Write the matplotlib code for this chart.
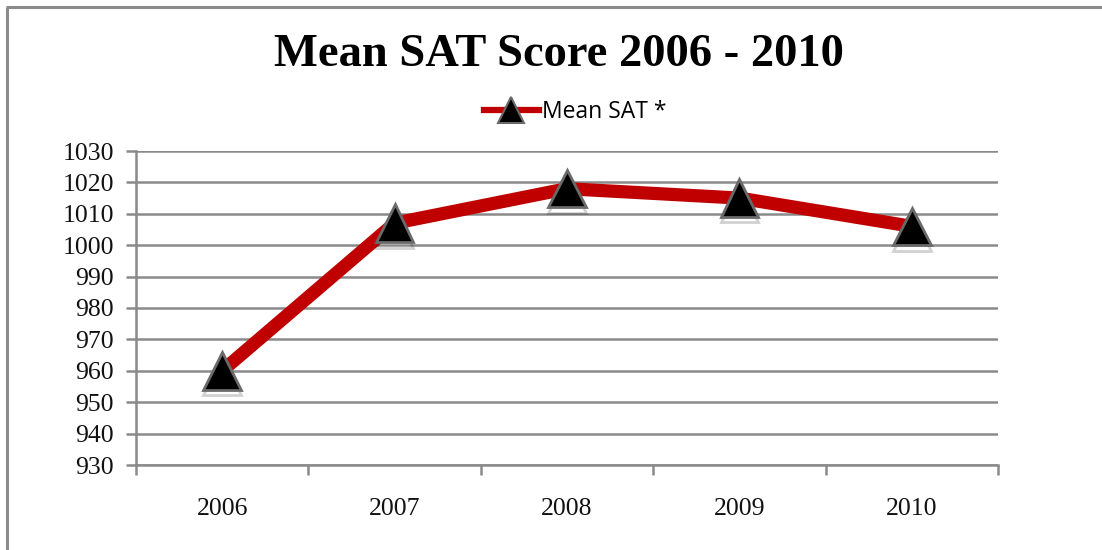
import matplotlib
matplotlib.use("Agg")
import matplotlib.pyplot as plt
from matplotlib.lines import Line2D
import matplotlib.patheffects as pe

years = ["2006", "2007", "2008", "2009", "2010"]
mean_sat = [960, 1007, 1018, 1015, 1006]
y_ticks = [930, 940, 950, 960, 970, 980, 990, 1000, 1010, 1020, 1030]
series_name = "Mean SAT *"
title = "Mean SAT Score 2006 - 2010"

W, H = 1102, 550
fig = plt.figure(figsize=(W / 100, H / 100), dpi=100)
fig.patch.set_facecolor("white")

# chart frame (left and top edges visible)
frame_col = "#8c8c8c"
fig.add_artist(Line2D([6.5 / W, 6.5 / W], [0, 1 - 7 / H], transform=fig.transFigure,
                      color=frame_col, lw=2.2, solid_capstyle="butt"))
fig.add_artist(Line2D([5.5 / W, 1], [1 - 7 / H, 1 - 7 / H], transform=fig.transFigure,
                      color=frame_col, lw=2.2, solid_capstyle="butt"))

ax = fig.add_axes([136 / W, 1 - 465 / H, (998 - 136) / W, (465 - 151) / H])
x = list(range(len(years)))

red = "#C00000"
ax.plot(x, mean_sat, color=red, lw=9.5, solid_capstyle="butt", zorder=3)
mk, = ax.plot(x, mean_sat, ls="none", marker="^", markersize=27,
              markerfacecolor="black", markeredgecolor="#6a6a6a", markeredgewidth=2,
              zorder=4)
mk.set_path_effects([pe.SimpleLineShadow(offset=(0, -4), shadow_color="black", alpha=0.18),
                     pe.Normal()])

ax.set_xlim(-0.5, len(years) - 0.5)
ax.set_ylim(y_ticks[0], y_ticks[-1])
ax.set_yticks(y_ticks)
ax.set_yticklabels([str(v) for v in y_ticks])
ax.set_xticks(x)
ax.set_xticklabels(years)
ax.set_xticks([i - 0.5 for i in range(len(years) + 1)], minor=True)

grid_col = "#8a8a8a"
ax.yaxis.grid(True, color=grid_col, lw=1.8)
ax.set_axisbelow(True)
for s in ["top", "right"]:
    ax.spines[s].set_visible(False)
for s in ["left", "bottom"]:
    ax.spines[s].set_color(grid_col)
    ax.spines[s].set_linewidth(1.8)

serif = ["Liberation Serif", "DejaVu Serif"]
ax.tick_params(axis="y", direction="out", length=7, width=1.8, color=grid_col,
               labelsize=18.5, pad=9)
ax.tick_params(axis="x", which="major", length=0, labelsize=18.5, pad=24)
ax.tick_params(axis="x", which="minor", direction="out", length=7, width=1.8, color=grid_col)
for lab in ax.get_yticklabels() + ax.get_xticklabels():
    lab.set_family(serif)
    lab.set_color("#111111")

fig.text(559 / W, 1 - 55 / H, title, ha="center", va="center",
         fontsize=33.5, fontweight="bold", family=serif, color="black")

leg_handle = Line2D([], [], color=red, lw=4.5, marker="^", markersize=19,
                    markerfacecolor="black", markeredgecolor="#6a6a6a", markeredgewidth=1.5)
leg = fig.legend([leg_handle], [series_name], loc="center",
                 bbox_to_anchor=(575 / W, 1 - 112 / H), frameon=False,
                 prop={"family": ["Open Sans", "DejaVu Sans"], "size": 16.5},
                 handlelength=2.4, handletextpad=0.15, numpoints=1)

fig.savefig("out.png", dpi=100, facecolor="white")
